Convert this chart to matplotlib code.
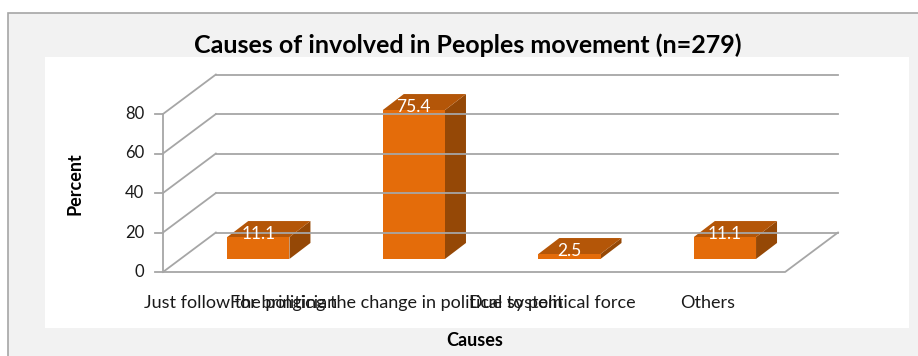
import matplotlib.pyplot as plt
from matplotlib.patches import Rectangle, Polygon

plt.rcParams['font.family'] = ['Lato', 'DejaVu Sans']

causes = ['Just follow the politician', 'For bringing the change in political system',
          'Due to political force', 'Others']
percent = [11.1, 75.4, 2.5, 11.1]
yticks = [0, 20, 40, 60, 80]

W, H = 918, 356
fig = plt.figure(figsize=(W / 100, H / 100), dpi=100)
fig.patch.set_facecolor('white')

# chart frame: grey outer area + white plot panel (frame runs off right/bottom edge)
fig.patches.append(Rectangle((8 / W, -0.1), 1, (H - 13) / H + 0.1, transform=fig.transFigure,
                             facecolor='#f2f2f2', edgecolor='#a6a6a6', lw=1.2, zorder=-2))
fig.patches.append(Rectangle((45 / W, (H - 328) / H), (909 - 45) / W, (328 - 57) / H,
                             transform=fig.transFigure, facecolor='white', edgecolor='none', zorder=-1))

# axes: x in category units, y in percent; depth drawn as an oblique offset
ax = fig.add_axes([163 / W, (H - 272) / H, 675 / W, 197.5 / H])
ax.set_xlim(0, 4.34)
ax.set_ylim(0, 100)
ax.axis('off')
ax.patch.set_alpha(0)

n = len(causes)
dx, dy = 0.34, 20          # full depth of the floor
fx, fy = 0.113, 6.6        # bar front sits this far back
bx, by = 0.135, 8.1        # bar depth
bw = 0.4
grid = '#a6a6a6'

# walls / floor
for v in yticks:
    ax.plot([0, dx], [v, v + dy], color=grid, lw=1.3, clip_on=False)
    ax.plot([dx, n + dx], [v + dy, v + dy], color=grid, lw=1.3, clip_on=False)
    ax.plot([-0.05, 0], [v, v], color=grid, lw=1.3, clip_on=False)
    ax.annotate(str(v), (0, v), xytext=(-13.5, 0), textcoords='offset points',
                ha='right', va='center', fontsize=12, color='#1a1a1a')
ax.plot([0, 0], [0, yticks[-1]], color=grid, lw=1.3, clip_on=False)
ax.plot([0, n, n + dx], [0, 0, dy], color=grid, lw=1.3, clip_on=False)

front, top, side = '#e46c0a', '#b45608', '#954806'
for i, v in enumerate(percent):
    x0 = i + 0.5 - bw / 2 + fx
    ax.add_patch(Polygon([(x0 + bw, fy), (x0 + bw + bx, fy + by), (x0 + bw + bx, fy + v + by),
                          (x0 + bw, fy + v)], closed=True, facecolor=side, edgecolor='none'))
    ax.add_patch(Polygon([(x0, fy + v), (x0 + bw, fy + v), (x0 + bw + bx, fy + v + by),
                          (x0 + bx, fy + v + by)], closed=True, facecolor=top, edgecolor='none'))
    ax.add_patch(Rectangle((x0, fy), bw, v, facecolor=front, edgecolor='none'))
    ax.annotate(f'{v}', (x0 + bw / 2, fy + v), xytext=(0, 2.5), textcoords='offset points',
                ha='center', va='center', fontsize=12.5, color='white')
    ax.annotate(causes[i], (i + 0.5, 0), xytext=(0, -22), textcoords='offset points',
                ha='center', va='center', fontsize=13, color='#1a1a1a')

fig.text(468 / W, 1 - 45 / H, 'Causes of involved in Peoples movement (n=279)',
         ha='center', va='center', fontsize=18, fontweight='bold')
fig.text(75 / W, 1 - 184 / H, 'Percent', rotation=90, ha='center', va='center',
         fontsize=13, fontweight='bold')
fig.text(475 / W, 1 - 341 / H, 'Causes', ha='center', va='center', fontsize=13, fontweight='bold')

fig.savefig('out.png', dpi=100)
